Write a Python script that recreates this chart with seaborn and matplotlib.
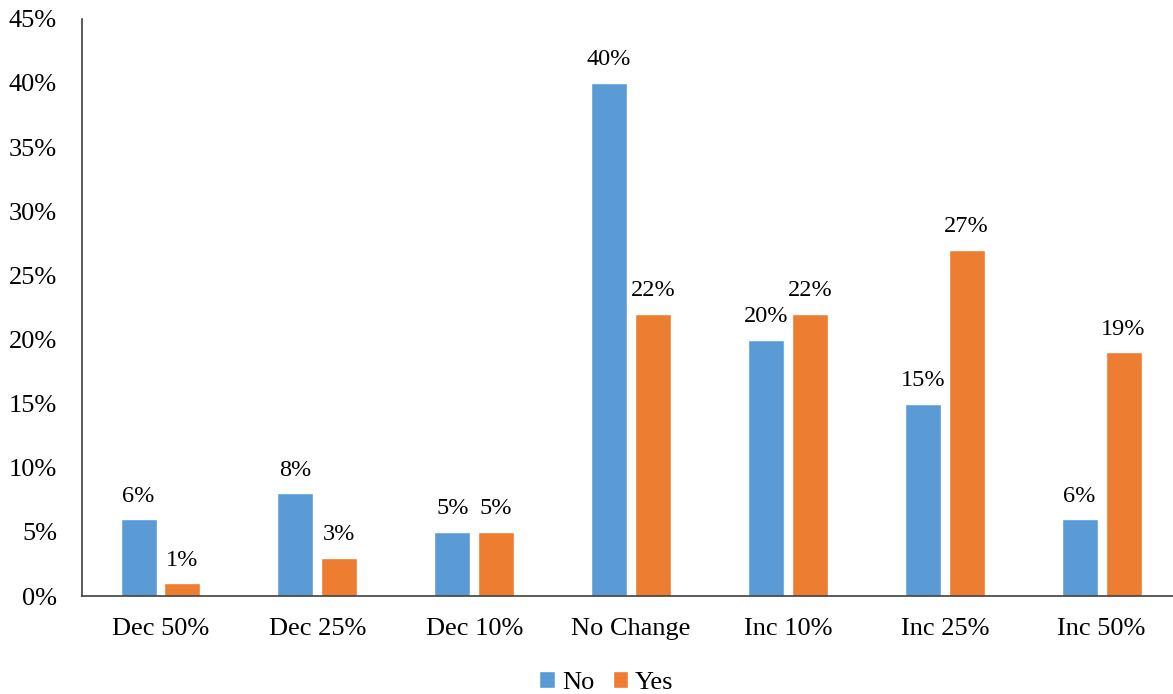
import matplotlib.pyplot as plt
from matplotlib.ticker import PercentFormatter
import pandas as pd
import seaborn as sns

# data
categories = ['Dec 50%', 'Dec 25%', 'Dec 10%', 'No Change', 'Inc 10%', 'Inc 25%', 'Inc 50%']
no_vals = [6, 8, 5, 40, 20, 15, 6]
yes_vals = [1, 3, 5, 22, 22, 27, 19]
y_ticks = [0, 5, 10, 15, 20, 25, 30, 35, 40, 45]

df = pd.DataFrame({'category': categories * 2,
                   'answer': ['No'] * len(categories) + ['Yes'] * len(categories),
                   'value': no_vals + yes_vals})

sns.set_style('white')
plt.rcParams['font.family'] = ['Liberation Serif', 'DejaVu Serif']
plt.rcParams['text.color'] = 'black'
plt.rcParams['xtick.color'] = 'black'
plt.rcParams['ytick.color'] = 'black'

fig = plt.figure(figsize=(11.73, 6.94), dpi=100)
ax = fig.add_axes([0.070, 0.141, 0.936, 0.832])

sns.barplot(data=df, x='category', y='value', hue='answer', order=categories,
            palette={'No': '#5B9BD5', 'Yes': '#ED7D31'},
            width=0.56, gap=0.18, saturation=1, ax=ax)

for c in ax.containers:
    ax.bar_label(c, fmt='%g%%', padding=9, fontsize=17.5, color='black')

ax.set_ylim(0, 45)
ax.set_xlim(-0.5, 6.5)
ax.set_yticks(y_ticks)
ax.yaxis.set_major_formatter(PercentFormatter(decimals=0))
ax.tick_params(axis='both', length=0, labelsize=19)
ax.tick_params(axis='x', pad=16)
ax.tick_params(axis='y', pad=18)
ax.set_xlabel('')
ax.set_ylabel('')
sns.despine(ax=ax, top=True, right=True)
for s in ['left', 'bottom']:
    ax.spines[s].set_color('#404040')
    ax.spines[s].set_linewidth(1.2)

handles, labels = ax.get_legend_handles_labels()
ax.get_legend().remove()
fig.legend(handles, labels, loc='center', bbox_to_anchor=(0.517, 0.017), ncol=2,
           frameon=False, fontsize=19, handlelength=0.6, handleheight=0.6,
           handletextpad=0.25, columnspacing=0.7)

fig.savefig('out.png', dpi=100)
